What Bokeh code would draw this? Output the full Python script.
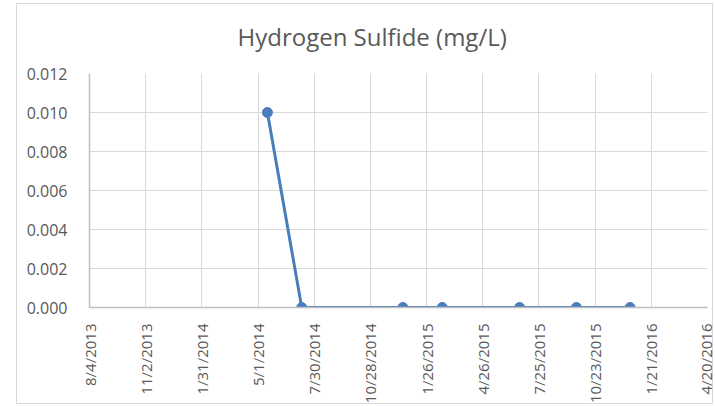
from datetime import datetime, timezone
import math
from bokeh.plotting import figure
from bokeh.models import ColumnDataSource, FixedTicker, Range1d, NumeralTickFormatter
from bokeh.embed import file_html
from bokeh.resources import INLINE

# ---- data ----
sample_dates = ["2014-05-16", "2014-07-10", "2014-12-19", "2015-02-20",
                "2015-06-24", "2015-09-23", "2015-12-18"]
h2s_values = [0.010, 0.0, 0.0, 0.0, 0.0, 0.0, 0.0]

x_tick_dates = ["2013-08-04", "2013-11-02", "2014-01-31", "2014-05-01",
                "2014-07-30", "2014-10-28", "2015-01-26", "2015-04-26",
                "2015-07-25", "2015-10-23", "2016-01-21", "2016-04-20"]
x_tick_labels = ["8/4/2013", "11/2/2013", "1/31/2014", "5/1/2014",
                 "7/30/2014", "10/28/2014", "1/26/2015", "4/26/2015",
                 "7/25/2015", "10/23/2015", "1/21/2016", "4/20/2016"]
y_ticks = [0.0, 0.002, 0.004, 0.006, 0.008, 0.010, 0.012]
title_text = "Hydrogen Sulfide (mg/L)"


def to_ms(s):
    d = datetime.strptime(s, "%Y-%m-%d").replace(tzinfo=timezone.utc)
    return d.timestamp() * 1000.0


xs = [to_ms(d) for d in sample_dates]
x_ticks = [to_ms(d) for d in x_tick_dates]

src = ColumnDataSource(dict(x=xs, y=h2s_values))

FONT = "Open Sans"
GRAY = "#595959"
BLUE = "#4a7ebb"

p = figure(width=715, height=406, output_backend="svg", toolbar_location=None,
           x_range=Range1d(x_ticks[0], x_ticks[-1]), y_range=Range1d(0, 0.012),
           min_border_left=89, min_border_right=8, min_border_top=72,
           min_border_bottom=99)

p.outline_line_color = None
p.background_fill_color = "white"
p.border_fill_color = None
# light chart-area border drawn behind the transparent canvas border
p.styles = {"background-color": "white",
            "box-shadow": ("inset 16px 3px 0 0 white, inset -2px -2px 0 0 white, "
                           "inset 17px 4px 0 0 #d9d9d9, inset -3px -3px 0 0 #d9d9d9")}

p.title.text = title_text
p.title.text_font = FONT
p.title.text_font_size = "24px"
p.title.text_font_style = "normal"
p.title.text_color = GRAY
p.title.align = "left"
p.title.offset = 148
p.title.vertical_align = "top"
p.title.standoff = 38

p.line("x", "y", source=src, line_color=BLUE, line_width=3)
p.scatter("x", "y", source=src, size=10, fill_color=BLUE, line_color=BLUE)

xa = p.xaxis[0]
xa.ticker = FixedTicker(ticks=x_ticks)
xa.major_label_overrides = {t: l for t, l in zip(x_ticks, x_tick_labels)}
xa.major_label_orientation = math.pi / 2
xa.major_tick_line_color = None
xa.minor_tick_line_color = None
xa.axis_line_color = "#bfbfbf"
xa.axis_line_width = 1.5
xa.major_label_text_font = FONT
xa.major_label_text_font_size = "15px"
xa.major_label_text_color = GRAY
xa.major_label_text_line_height = 1.0
xa.major_label_standoff = 10

ya = p.yaxis[0]
ya.ticker = FixedTicker(ticks=y_ticks)
ya.formatter = NumeralTickFormatter(format="0.000")
ya.major_tick_line_color = None
ya.minor_tick_line_color = None
ya.axis_line_color = "#bfbfbf"
ya.axis_line_width = 1.5
ya.major_label_text_font = FONT
ya.major_label_text_font_size = "16px"
ya.major_label_text_color = GRAY
ya.major_label_standoff = 16

p.xgrid.ticker = FixedTicker(ticks=x_ticks)
p.ygrid.ticker = FixedTicker(ticks=y_ticks)
p.xgrid.grid_line_color = "#d9d9d9"
p.ygrid.grid_line_color = "#d9d9d9"
p.xgrid.grid_line_width = 1
p.ygrid.grid_line_width = 1

open("out.html", "w").write(file_html(p, INLINE))
